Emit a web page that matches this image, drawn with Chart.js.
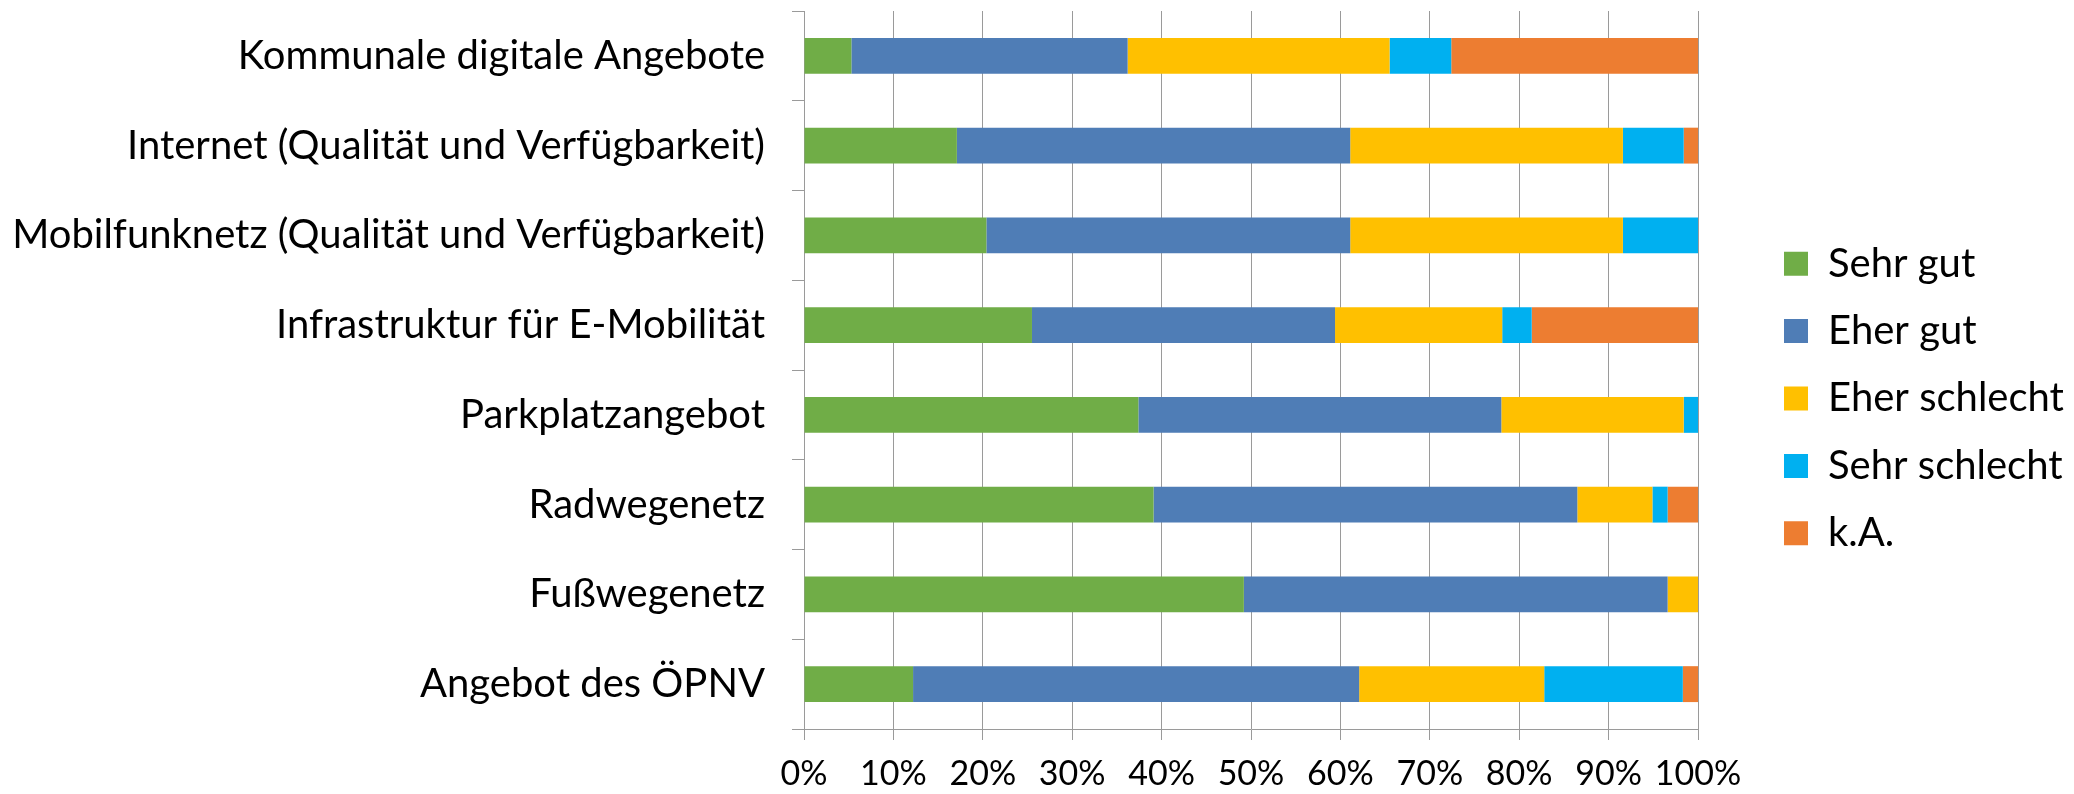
<!DOCTYPE html>
<html>
<head>
<meta charset="utf-8">
<script src="https://cdn.jsdelivr.net/npm/chart.js@4.4.1/dist/chart.umd.min.js"></script>
<style>
  html, body { margin: 0; padding: 0; background: #fff; }
  #wrap { width: 2074px; height: 794px; position: relative; }
</style>
</head>
<body>
<div id="wrap"><canvas id="c"></canvas></div>
<script>
const categories = [
  "Kommunale digitale Angebote",
  "Internet (Qualität und Verfügbarkeit)",
  "Mobilfunknetz (Qualität und Verfügbarkeit)",
  "Infrastruktur für E-Mobilität",
  "Parkplatzangebot",
  "Radwegenetz",
  "Fußwegenetz",
  "Angebot des ÖPNV"
];
const seriesNames = ["Sehr gut", "Eher gut", "Eher schlecht", "Sehr schlecht", "k.A."];
const sehrGut      = [5.3, 17.1, 20.4, 25.5, 37.4, 39.1, 49.2, 12.2];
const eherGut      = [30.9, 44.0, 40.7, 33.9, 40.6, 47.4, 47.4, 49.9];
const eherSchlecht = [29.3, 30.5, 30.5, 18.7, 20.4, 8.4, 3.4, 20.7];
const sehrSchlecht = [6.9, 6.8, 8.4, 3.3, 1.6, 1.7, 0, 15.5];
const kA           = [27.6, 1.6, 0, 18.6, 0, 3.4, 0, 1.7];
const xTickValues  = [0, 10, 20, 30, 40, 50, 60, 70, 80, 90, 100];

const colors = ["#70AD47", "#4F7DB6", "#FFC000", "#00B0F0", "#ED7D31"];
const seriesData = [sehrGut, eherGut, eherSchlecht, sehrSchlecht, kA];

const FONT = "Lato";
const catFont = 40, tickFont = 34, legFont = 40;
const gridColor = "#9a9a9a";

// layout targets
const W = 2074, H = 794;
const areaLeft = 804, areaRight = 1698, areaTop = 11, areaBottom = 729;
const padBottom = 8;
const legendBoxX = 1784;
const legendItemStep = 67.4;
const legPad = legendItemStep - legFont;

const datasets = seriesNames.map((name, i) => ({
  label: name,
  data: seriesData[i],
  backgroundColor: colors[i],
  borderWidth: 0,
  categoryPercentage: 1.0,
  barPercentage: 0.4
}));

// shift the legend horizontally so its boxes start at legendBoxX
const legendShift = {
  id: "legendShift",
  afterLayout(chart) {
    const lg = chart.legend;
    if (!lg) return;
    const d = legendBoxX - (lg.left + legPad);
    lg.left += d;
    lg.right += d;
  }
};

new Chart(document.getElementById("c"), {
  type: "bar",
  data: { labels: categories, datasets },
  plugins: [legendShift],
  options: {
    indexAxis: "y",
    responsive: true,
    maintainAspectRatio: false,
    animation: false,
    layout: { padding: { left: 0, top: areaTop, right: 0, bottom: padBottom } },
    plugins: {
      tooltip: { enabled: false },
      legend: {
        position: "right",
        align: "center",
        labels: {
          font: { family: FONT, size: legFont },
          color: "#000",
          boxWidth: 24,
          boxHeight: 24,
          padding: legPad
        }
      }
    },
    scales: {
      x: {
        stacked: true,
        min: 0,
        max: 100,
        afterBuildTicks: (s) => { s.ticks = xTickValues.map(v => ({ value: v })); },
        ticks: {
          callback: (v) => v + "%",
          font: { family: FONT, size: tickFont },
          color: "#000",
          padding: 14,
          maxRotation: 0,
          autoSkip: false
        },
        grid: { color: gridColor, lineWidth: 1, tickLength: 11, drawOnChartArea: true, drawTicks: true },
        border: { display: true, color: gridColor, width: 1 },
        afterFit: (s) => {
          s.height = H - padBottom - areaBottom;
          s.paddingLeft = 0;
          s.paddingRight = W - areaRight;
        }
      },
      y: {
        stacked: true,
        ticks: {
          font: { family: FONT, size: catFont },
          color: "#000",
          padding: 27,
          autoSkip: false
        },
        grid: { display: true, drawOnChartArea: false, drawTicks: true, tickLength: 12, color: gridColor, lineWidth: 1, offset: true },
        border: { display: true, color: gridColor, width: 1 },
        afterFit: (s) => {
          s.width = areaLeft;
          s.paddingTop = 0;
          s.paddingBottom = 0;
        }
      }
    }
  }
});
</script>
</body>
</html>
